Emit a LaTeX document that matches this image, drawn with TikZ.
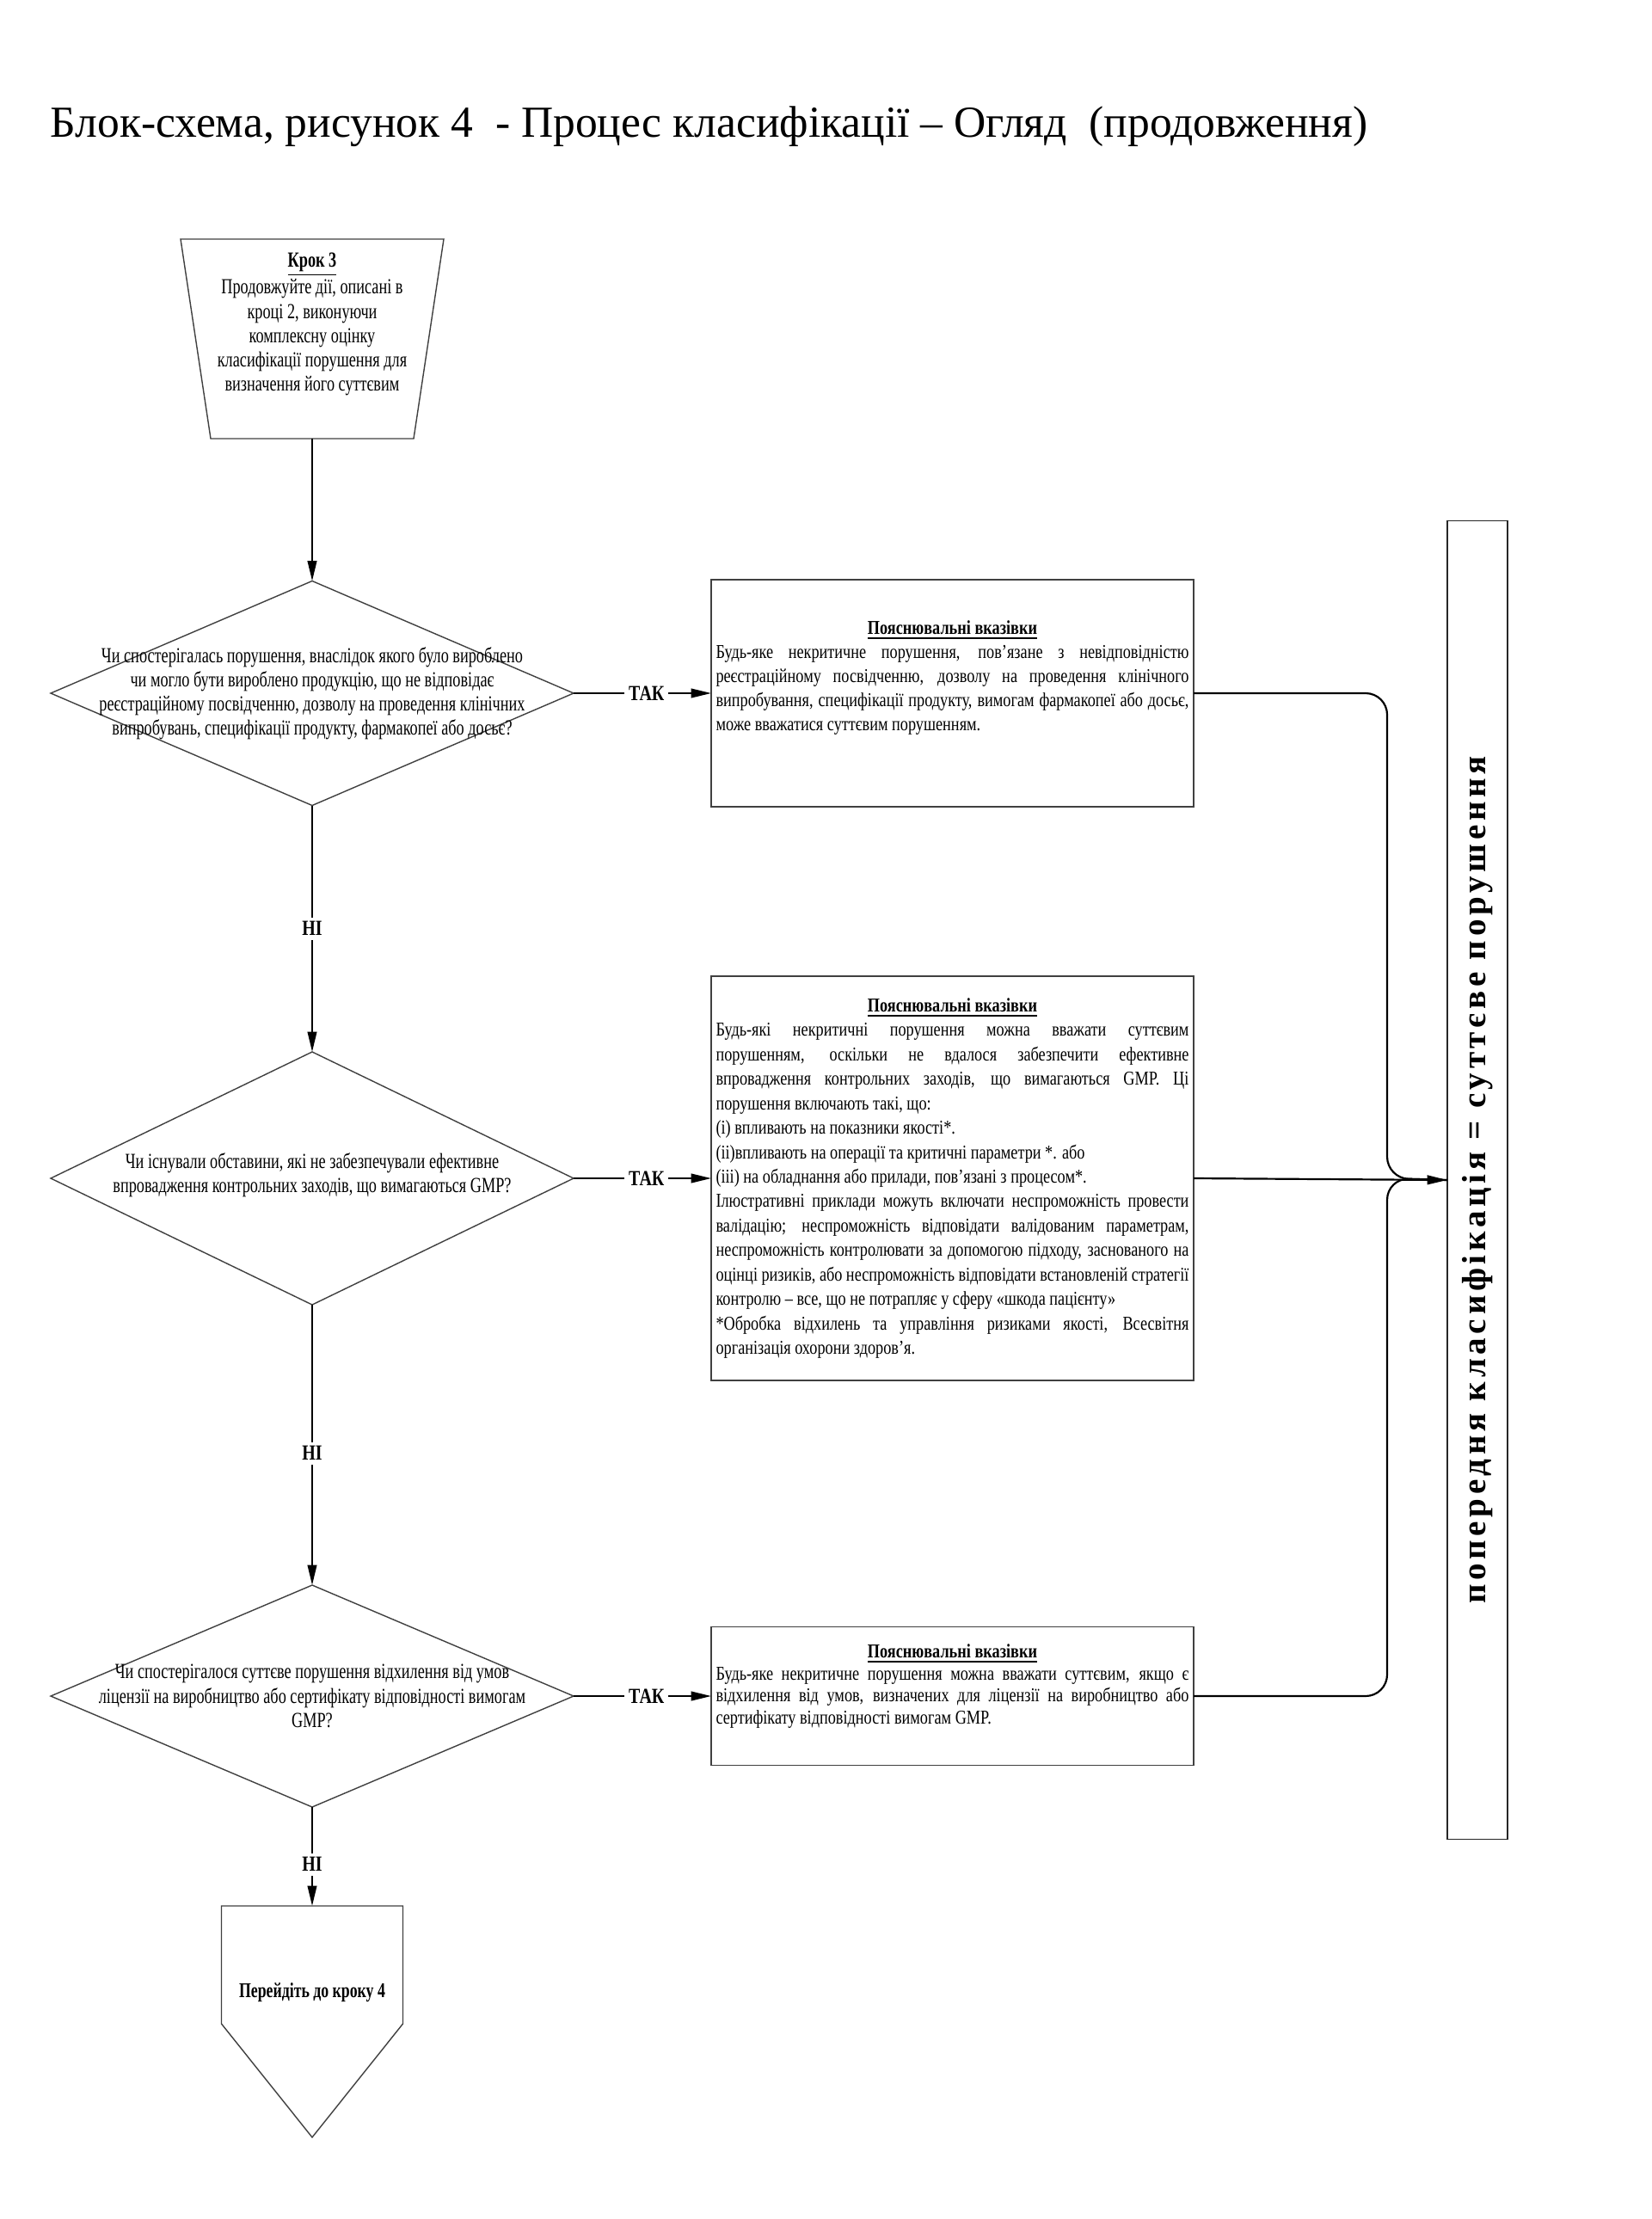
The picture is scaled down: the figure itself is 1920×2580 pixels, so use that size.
\documentclass[tikz,border=0pt]{standalone}
\usepackage{fontspec}
\setmainfont{Liberation Serif}
\newfontfamily\cnd[FakeStretch=0.8]{Liberation Serif}
\newfontfamily\cndd[FakeStretch=0.73]{Liberation Serif}
\newfontfamily\wideb[LetterSpace=12]{Liberation Serif}
\usetikzlibrary{shapes.geometric,arrows.meta}
\begin{document}
\begin{tikzpicture}[x=0.32pt,y=-0.32pt,
  shp/.style={draw=black!75, line width=0.45pt, inner sep=0pt, outer sep=0pt},
  conn/.style={draw=black, line width=0.7pt},
  arr/.style={conn,-{Triangle[length=7.5pt,width=3.4pt]}},
  lbl/.style={font=\cnd\bfseries\fontsize{8}{9}\selectfont, fill=white, inner sep=1.5pt},
  dtext/.style={font=\cndd\fontsize{8}{9}\selectfont, align=center, inner sep=0pt},
  btext/.style={font=\cnd\fontsize{7.3}{9}\selectfont, text width=176pt, align=justify, inner sep=0pt, anchor=north},
]
\useasboundingbox (0,0) rectangle (1920,2580);

% title
\node[anchor=base west, inner sep=0pt, font=\fontsize{16.5}{20}\selectfont] (title) at (58,160)
  {Блок-схема, рисунок 4 ~- Процес класифікації – Огляд ~(продовження)};

% step 3 trapezoid
\coordinate (trTL) at (210,278);
\coordinate (trTR) at (516,278);
\coordinate (trBR) at (481,510);
\coordinate (trBL) at (245,510);
\coordinate (trB) at (363,510);
\draw[shp] (trTL) -- (trTR) -- (trBR) -- (trBL) -- cycle;
\node[dtext, anchor=north] (step3) at (363,293)
  {\underline{\textbf{Крок 3}}\\Продовжуйте дії, описані в\\кроці 2, виконуючи\\комплексну оцінку\\класифікації порушення для\\визначення його суттєвим};

% diamonds
\node[shp, diamond, minimum width=608*0.32pt, minimum height=261*0.32pt] (d1) at (363,806) {};
\node[dtext] (d1t) at (363,806)
  {Чи спостерігалась порушення, внаслідок якого було вироблено\\чи могло бути вироблено продукцію, що не відповідає\\реєстраційному посвідченню, дозволу на проведення клінічних\\випробувань, специфікації продукту, фармакопеї або досьє?};

\node[shp, diamond, minimum width=608*0.32pt, minimum height=294*0.32pt] (d2) at (363,1370) {};
\node[dtext] (d2t) at (363,1366)
  {Чи існували обставини, які не забезпечували ефективне\\впровадження контрольних заходів, що вимагаються GMP?};

\node[shp, diamond, minimum width=608*0.32pt, minimum height=258*0.32pt] (d3) at (363,1972) {};
\node[dtext] (d3t) at (363,1972)
  {Чи спостерігалося суттєве порушення відхилення від умов\\ліцензії на виробництво або сертифікату відповідності вимогам\\GMP?};

% boxes
\node[shp, minimum width=561*0.32pt, minimum height=264*0.32pt] (b1) at (1107.5,806) {};
\node[btext] (b1t) at (1107.5,721)
  {{\centering\underline{\textbf{Пояснювальні вказівки}}\par}
  Будь-яке некритичне порушення, пов’язане з невідповідністю\linebreak
  реєстраційному посвідченню, дозволу на проведення клінічного\linebreak
  випробування, специфікації продукту, вимогам фармакопеї або досьє,\linebreak
  може вважатися суттєвим порушенням.};

\node[shp, minimum width=561*0.32pt, minimum height=470*0.32pt] (b2) at (1107.5,1370) {};
\node[btext, font=\cnd\fontsize{7.3}{9.1}\selectfont] (b2t) at (1107.5,1160)
  {{\centering\underline{\textbf{Пояснювальні вказівки}}\par}
  Будь-які некритичні порушення можна вважати суттєвим\linebreak
  порушенням, оскільки не вдалося забезпечити ефективне\linebreak
  впровадження контрольних заходів, що вимагаються GMP. Ці\linebreak
  порушення включають такі, що:\par
  (i) впливають на показники якості*.\par
  (ii)впливають на операції та критичні параметри *. або\par
  (iii) на обладнання або прилади, пов’язані з процесом*.\par
  Ілюстративні приклади можуть включати неспроможність провести\linebreak
  валідацію; неспроможність відповідати валідованим параметрам,\linebreak
  неспроможність контролювати за допомогою підходу, заснованого на\linebreak
  оцінці ризиків, або неспроможність відповідати встановленій стратегії\linebreak
  контролю – все, що не потрапляє у сферу «шкода пацієнту»\par
  *Обробка відхилень та управління ризиками якості, Всесвітня\linebreak
  організація охорони здоров’я.};

\node[shp, minimum width=561*0.32pt, minimum height=161*0.32pt] (b3) at (1107.5,1972) {};
\node[btext, font=\cnd\fontsize{7.3}{8.2}\selectfont] (b3t) at (1107.5,1911)
  {{\centering\underline{\textbf{Пояснювальні вказівки}}\par}
  Будь-яке некритичне порушення можна вважати суттєвим, якщо є\linebreak
  відхилення від умов, визначених для ліцензії на виробництво або\linebreak
  сертифікату відповідності вимогам GMP.};

% result box
\node[shp, draw=black!85, line width=0.6pt, minimum width=70*0.32pt, minimum height=1533*0.32pt] (rb) at (1718,1372) {};
\node[rotate=90, inner sep=0pt, font=\wideb\bfseries\fontsize{12.5}{14}\selectfont] (rbt) at (1718,1372)
  {попередня класифікація = суттєве порушення};

% final pentagon
\node[minimum width=211*0.32pt, minimum height=137*0.32pt, anchor=north, inner sep=0pt, outer sep=0pt] (pent) at (363,2216) {};
\coordinate (ptip) at (363,2485);
\draw[shp] (pent.north west) -- (pent.north east) -- (pent.south east) -- (ptip) -- (pent.south west) -- cycle;
\node[font=\cndd\bfseries\fontsize{7.8}{9}\selectfont, inner sep=0pt] (pentt) at (363,2317) {Перейдіть до кроку 4};

% connectors
\draw[arr] (trB) -- (d1.north);
\draw[arr] (d1.east) -- node[lbl, pos=0.53]{ТАК} (b1.west);
\draw[arr] (d2.east) -- node[lbl, pos=0.53]{ТАК} (b2.west);
\draw[arr] (d3.east) -- node[lbl, pos=0.53]{ТАК} (b3.west);
\draw[arr] (d1.south) -- node[lbl]{НІ} (d2.north);
\draw[arr] (d2.south) -- node[lbl, pos=0.53]{НІ} (d3.north);
\draw[arr] (d3.south) -- node[lbl, pos=0.58]{НІ} (pent.north);

\coordinate (brk) at (1613,1370);
\draw[conn, rounded corners=8pt] (b1.east) -| (brk) -- (rb.west);
\draw[conn, rounded corners=8pt] (b3.east) -| (brk) -- (rb.west);
\draw[arr] (b2.east) -- (rb.west);
\end{tikzpicture}
\end{document}
